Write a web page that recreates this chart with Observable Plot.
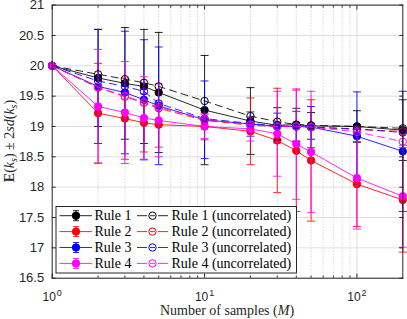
<!DOCTYPE html>
<html><head><meta charset="utf-8">
<script src="https://cdn.jsdelivr.net/npm/d3@7"></script>
<script src="https://cdn.jsdelivr.net/npm/@observablehq/plot@0.6"></script>
<style>
html,body{margin:0;padding:0;background:#fff;}
#chart svg{display:block;overflow:visible;}
</style></head><body><div id="chart"></div>
<script>
// ---- data ----
const samples = [1, 2, 3, 4, 5, 10, 20, 30, 40, 50, 100, 200];

const rule1    = [20, 19.80, 19.71, 19.66, 19.56, 19.27, 19.09, 19.02, 19.03, 19.01, 19.00, 18.94];
const rule1Err = [0, 0.80, 0.92, 0.94, 0.99, 0.90, 0.55, 0.29, 0.27, 0.22, 0.26, 0.50];
const rule2    = [20, 19.22, 19.13, 19.06, 19.03, 19.00, 18.92, 18.77, 18.60, 18.44, 18.05, 17.79];
const rule2Err = [0, 0.82, 0.67, 0.48, 0.37, 0.22, 0.55, 0.86, 1.00, 1.00, 0.70, 0.86];
const rule3    = [20, 19.66, 19.56, 19.44, 19.34, 19.11, 19.04, 19.00, 19.00, 18.99, 18.84, 18.59];
const rule3Err = [0, 0.94, 1.01, 0.99, 0.97, 0.64, 0.20, 0.22, 0.25, 0.34, 0.73, 0.99];
const rule4    = [20, 19.33, 19.23, 19.14, 19.10, 19.00, 18.96, 18.88, 18.71, 18.58, 18.15, 17.85];
const rule4Err = [0, 0.94, 0.84, 0.68, 0.60, 0.20, 0.20, 0.70, 0.91, 1.00, 0.84, 0.84];

const rule1U = [20, 19.86, 19.78, 19.72, 19.66, 19.42, 19.17, 19.08, 19.03, 19.02, 19.00, 18.97];
const rule2U = [20, 19.64, 19.49, 19.39, 19.30, 19.10, 19.02, 19.00, 19.00, 18.99, 18.95, 18.92];
const rule3U = [20, 19.75, 19.66, 19.58, 19.38, 19.13, 19.05, 19.01, 19.00, 18.99, 18.96, 18.90];
const rule4U = [20, 19.65, 19.50, 19.40, 19.32, 19.12, 19.03, 19.00, 19.00, 18.99, 18.91, 18.75];

const ruleNames   = ["Rule 1", "Rule 2", "Rule 3", "Rule 4"];
const uncorrNames = ["Rule 1 (uncorrelated)", "Rule 2 (uncorrelated)", "Rule 3 (uncorrelated)", "Rule 4 (uncorrelated)"];
const ruleColors  = ["#000000", "#ff0000", "#0000ff", "#ff00ff"];

const yTicks = [16.5, 17, 17.5, 18, 18.5, 19, 19.5, 20, 20.5, 21];
const xTicks = [1, 10, 100];
const xTickExponents = ["0", "1", "2"];
const xMinor = [2, 3, 4, 5, 6, 7, 8, 9, 20, 30, 40, 50, 60, 70, 80, 90];

// ---- build ----
const means = [rule1, rule2, rule3, rule4];
const errs = [rule1Err, rule2Err, rule3Err, rule4Err];
const uncorr = [rule1U, rule2U, rule3U, rule4U];

const rowsFor = k => samples.map((m, i) => ({M: m, y: means[k][i], lo: means[k][i] - errs[k][i], hi: means[k][i] + errs[k][i], e: errs[k][i]}));
const rowsU = k => samples.map((m, i) => ({M: m, y: uncorr[k][i]}));

const cap = {draw(ctx, size) { const r = Math.sqrt(size / Math.PI); ctx.moveTo(-r, 0); ctx.lineTo(r, 0); }};

const marks = [
  Plot.ruleY(yTicks, {stroke: "#dfdfdf", strokeWidth: 1}),
  Plot.ruleX(xMinor, {stroke: "#c4c4c4", strokeDasharray: "1,2", strokeWidth: 1}),
  Plot.ruleX(xTicks.slice(1), {stroke: "#dfdfdf", strokeWidth: 1})
];
for (let k = 0; k < 4; k++) {
  const rows = rowsFor(k), bars = rows.filter(d => d.e > 0), c = ruleColors[k];
  marks.push(
    Plot.ruleX(bars, {x: "M", y1: "lo", y2: "hi", stroke: c, strokeWidth: 0.85}),
    Plot.dot(bars, {x: "M", y: "lo", symbol: cap, r: 4, stroke: c, strokeWidth: 0.85}),
    Plot.dot(bars, {x: "M", y: "hi", symbol: cap, r: 4, stroke: c, strokeWidth: 0.85}),
    Plot.line(rows, {x: "M", y: "y", stroke: c, strokeWidth: 0.85}),
    Plot.dot(rows, {x: "M", y: "y", r: 3.7, fill: c, stroke: c, strokeWidth: 1})
  );
}
for (let k = 0; k < 4; k++) {
  const rows = rowsU(k), c = ruleColors[k];
  marks.push(
    Plot.line(rows, {x: "M", y: "y", stroke: c, strokeWidth: 0.85, strokeDasharray: "7,5"}),
    Plot.dot(rows, {x: "M", y: "y", r: 3.7, fill: "none", stroke: c, strokeWidth: 1})
  );
}
const axisCol = "#262626";
marks.push(
  Plot.axisY(yTicks, {anchor: "left", tickSize: 0, tickPadding: 8, label: null, fontSize: 13, tickFormat: d => String(d)}),
  Plot.axisY(yTicks, {anchor: "left", tickSize: -4, label: null, tickFormat: () => "", stroke: axisCol}),
  Plot.axisY(yTicks, {anchor: "right", tickSize: -4, label: null, tickFormat: () => "", stroke: axisCol}),
  Plot.axisX(xTicks, {anchor: "bottom", tickSize: 0, tickPadding: 14, label: null, fontSize: 12, tickFormat: d => xTickExponents[xTicks.indexOf(d)]}),
  Plot.axisX(xTicks, {anchor: "bottom", tickSize: -4, label: null, tickFormat: () => "", stroke: axisCol}),
  Plot.axisX(xTicks, {anchor: "top", tickSize: -4, label: null, tickFormat: () => "", stroke: axisCol}),
  Plot.axisX(xMinor, {anchor: "bottom", tickSize: -2, label: null, tickFormat: () => "", stroke: axisCol}),
  Plot.axisX(xMinor, {anchor: "top", tickSize: -2, label: null, tickFormat: () => "", stroke: axisCol}),
  Plot.frame({stroke: axisCol, strokeWidth: 1})
);

const plot = Plot.plot({
  width: 407, height: 319,
  marginLeft: 51.7, marginRight: 4.7, marginTop: 4.6, marginBottom: 41.3,
  style: {fontFamily: "'Liberation Sans', Arial, sans-serif", color: axisCol, background: "#fff"},
  x: {type: "log", domain: [1, 200]},
  y: {domain: [16.5, 21]},
  marks
});
document.getElementById("chart").appendChild(plot);

const svg = d3.select(plot);
// remove empty tick-label texts; add superscript exponents on x tick labels
svg.selectAll('g[aria-label="x-axis tick label"] text, g[aria-label="y-axis tick label"] text').each(function() {
  if (d3.select(this).text() === "") d3.select(this).remove();
});
svg.selectAll('g[aria-label="x-axis tick label"] text').each(function() {
  const t = d3.select(this), e = t.text();
  t.text("");
  t.append("tspan").text("10");
  t.append("tspan").attr("dy", -5).attr("dx", 1).attr("font-size", 9).text(e);
});

const serif = "'Liberation Serif', 'Times New Roman', serif";
// y label
const yl = svg.append("text").attr("transform", "translate(14,141) rotate(-90)")
  .attr("text-anchor", "middle").attr("font-family", serif).attr("font-size", 14).attr("fill", axisCol);
yl.append("tspan").attr("font-weight", "bold").text("E");
yl.append("tspan").text("(");
yl.append("tspan").attr("font-style", "italic").text("k");
yl.append("tspan").attr("font-style", "italic").attr("font-size", 10).attr("dy", 3).text("s");
yl.append("tspan").attr("dy", -3).text(") ± 2");
yl.append("tspan").attr("font-style", "italic").text("sd");
yl.append("tspan").text("(");
yl.append("tspan").attr("font-style", "italic").text("k");
yl.append("tspan").attr("font-style", "italic").attr("font-size", 10).attr("dy", 3).text("s");
yl.append("tspan").attr("dy", -3).text(")");

// x label
const xl = svg.append("text").attr("x", 227).attr("y", 315).attr("text-anchor", "middle")
  .attr("font-family", serif).attr("font-size", 14).attr("fill", axisCol);
xl.append("tspan").text("Number of samples (");
xl.append("tspan").attr("font-style", "italic").text("M");
xl.append("tspan").text(")");

// legend
const lg = svg.append("g").attr("font-family", serif).attr("font-size", 14).attr("text-anchor", "start");
lg.append("rect").attr("x", 56).attr("y", 206.5).attr("width", 240.5).attr("height", 66.5)
  .attr("fill", "#fff").attr("stroke", axisCol).attr("stroke-width", 1);
for (let k = 0; k < 4; k++) {
  const y = 215.7 + k * 15.9, c = ruleColors[k];
  lg.append("line").attr("x1", 59.5).attr("x2", 92).attr("y1", y).attr("y2", y).attr("stroke", c).attr("stroke-width", 0.85);
  lg.append("line").attr("x1", 76).attr("x2", 76).attr("y1", y - 5).attr("y2", y + 5).attr("stroke", c).attr("stroke-width", 0.85);
  lg.append("line").attr("x1", 73).attr("x2", 79).attr("y1", y - 5).attr("y2", y - 5).attr("stroke", c).attr("stroke-width", 0.85);
  lg.append("line").attr("x1", 73).attr("x2", 79).attr("y1", y + 5).attr("y2", y + 5).attr("stroke", c).attr("stroke-width", 0.85);
  lg.append("circle").attr("cx", 76).attr("cy", y).attr("r", 3.7).attr("fill", c).attr("stroke", c);
  lg.append("text").attr("x", 94.5).attr("y", y + 4.5).attr("fill", "#000").attr("text-anchor", "start").text(ruleNames[k]);
  lg.append("line").attr("x1", 137).attr("x2", 168).attr("y1", y).attr("y2", y).attr("stroke", c).attr("stroke-width", 0.85).attr("stroke-dasharray", "10,3,5,3,10");
  lg.append("circle").attr("cx", 152.5).attr("cy", y).attr("r", 3.7).attr("fill", "none").attr("stroke", c);
  lg.append("text").attr("x", 171.5).attr("y", y + 4.5).attr("fill", "#000").attr("text-anchor", "start").text(uncorrNames[k]);
}
</script></body></html>
